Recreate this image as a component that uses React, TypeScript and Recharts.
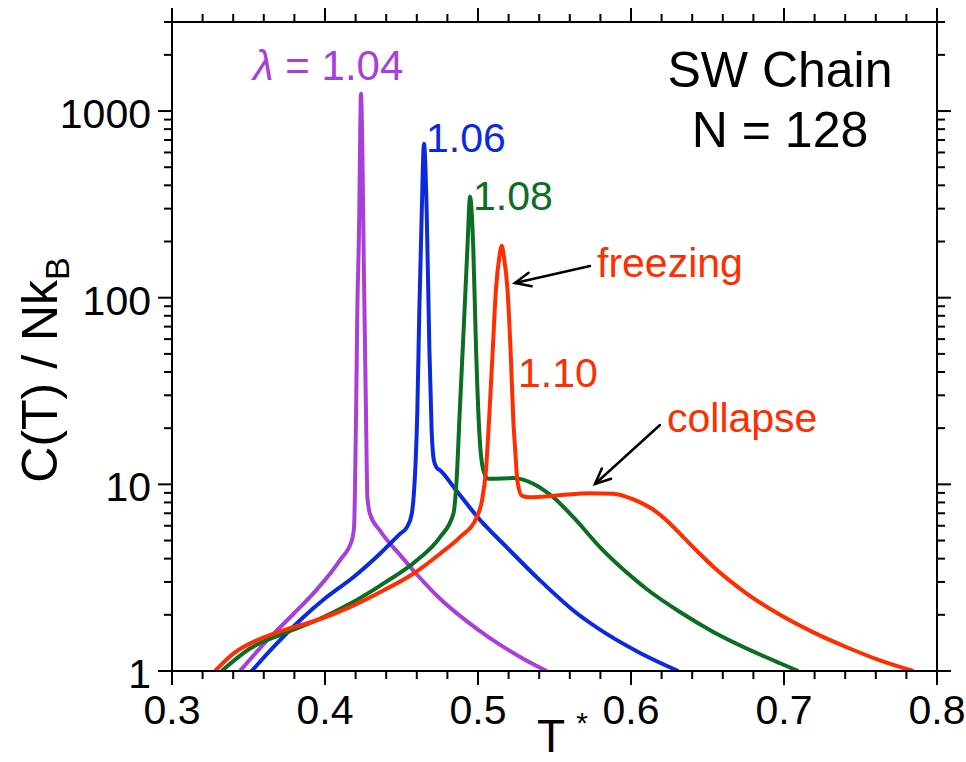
import React from "react";
import { LineChart, Line, XAxis, YAxis } from "recharts";

// C(T)/NkB vs T* for the square-well chain, N = 128, four well widths
const FONT = '"Liberation Sans", Arial, Helvetica, sans-serif';

const PURPLE = "#a93fdb";
const BLUE = "#0b2ae0";
const GREEN = "#0b6e22";
const RED = "#ff2d00";

// axis ticks
const tMajor = [0.3, 0.4, 0.5, 0.6, 0.7, 0.8];
const tTicks = [
  0.3, 0.32, 0.34, 0.36, 0.38, 0.4, 0.42, 0.44, 0.46, 0.48, 0.5, 0.52, 0.54, 0.56, 0.58,
  0.6, 0.62, 0.64, 0.66, 0.68, 0.7, 0.72, 0.74, 0.76, 0.78, 0.8,
];
const cMajor = [1, 10, 100, 1000];
const cTicks = [
  1, 2, 3, 4, 5, 6, 7, 8, 9, 10, 20, 30, 40, 50, 60, 70, 80, 90, 100, 200, 300, 400, 500,
  600, 700, 800, 900, 1000, 2000, 3000,
];

// lambda = 1.04
const temp104 = [
  0.3444, 0.3619, 0.3793, 0.3946, 0.4098, 0.4175, 0.419, 0.4203, 0.4211, 0.4224, 0.4229,
  0.4235, 0.4244, 0.4255, 0.4268, 0.4277, 0.4294, 0.4359, 0.449, 0.4599, 0.4752, 0.4926,
  0.5078, 0.5275, 0.5449,
];
const heat104 = [
  1, 1.45, 2.02, 2.73, 3.93, 5.0, 5.9, 23.9, 82, 281, 634, 1238, 634, 123, 23.9, 8.5, 6.95,
  5.66, 4.19, 3.3, 2.44, 1.85, 1.5, 1.19, 1,
];

// lambda = 1.06
const temp106 = [
  0.3521, 0.3684, 0.3837, 0.4011, 0.4185, 0.4359, 0.449, 0.4536, 0.4567, 0.4603, 0.4616,
  0.4632, 0.4647, 0.4665, 0.4682, 0.4697, 0.4712, 0.473, 0.4752, 0.4861, 0.5013, 0.5188,
  0.5405, 0.5623, 0.5841, 0.6059, 0.6309,
];
const heat106 = [
  1, 1.4, 1.87, 2.49, 3.18, 4.25, 5.43, 5.9, 6.95, 23.8, 81.7, 280, 668, 280, 54.2, 19.4,
  13.4, 12.3, 11.9, 9.2, 6.45, 4.6, 3.06, 2.11, 1.58, 1.25, 1,
];

// lambda = 1.08
const temp108 = [
  0.3325, 0.351, 0.3727, 0.3946, 0.4163, 0.4381, 0.4599, 0.4752, 0.4839, 0.486, 0.488,
  0.4911, 0.4931, 0.4948, 0.4969, 0.4987, 0.5008, 0.5035, 0.5067, 0.5231, 0.5294, 0.5361,
  0.5425, 0.5492, 0.5623, 0.5797, 0.5972, 0.6102, 0.632, 0.6538, 0.6756, 0.6974, 0.7093,
];
const heat108 = [
  1, 1.32, 1.585, 1.87, 2.29, 2.94, 3.91, 5.21, 6.95, 10.5, 23.8, 81.7, 186, 347, 186, 54.2,
  19.4, 11.9, 10.7, 10.8, 10.6, 10.07, 9.38, 8.53, 6.67, 4.61, 3.37, 2.75, 2.07, 1.62, 1.32,
  1.1, 1,
];

// lambda = 1.10
const temp110 = [
  0.3281, 0.3401, 0.3554, 0.3727, 0.3946, 0.4163, 0.4381, 0.4577, 0.4752, 0.4882, 0.4992,
  0.5026, 0.5052, 0.5072, 0.5095, 0.5118, 0.5139, 0.5155, 0.517, 0.5192, 0.5214, 0.5231,
  0.5242, 0.5257, 0.5286, 0.534, 0.5514, 0.5732, 0.5884, 0.6015, 0.6168, 0.6233, 0.632,
  0.6428, 0.6538, 0.6647, 0.6756, 0.6974, 0.7192, 0.741, 0.7627, 0.7845,
];
const heat110 = [
  1, 1.24, 1.46, 1.65, 1.87, 2.2, 2.7, 3.32, 4.25, 5.21, 6.67, 8.19, 11.9, 21.9, 49.9, 113,
  164, 190, 164, 113, 49.9, 21.9, 15.8, 10.5, 8.71, 8.53, 8.71, 8.96, 8.9, 8.3, 7.1, 6.4,
  5.45, 4.42, 3.62, 3.04, 2.6, 2.0, 1.61, 1.34, 1.14, 1,
];

const toPoints = (ts: number[], cs: number[]) => ts.map((t, i) => ({ t, c: cs[i] }));

const isMajor = (v: number, majors: number[]) =>
  majors.some((m) => Math.abs(m - v) < 1e-6 * Math.max(1, m));

const TICK_MAJOR = 14;
const TICK_MINOR = 8;
const LABEL_SIZE = 41;

function BottomTick(p: any) {
  const major = isMajor(p.payload.value, tMajor);
  return (
    <g>
      <line x1={p.x} y1={p.y} x2={p.x} y2={p.y + (major ? TICK_MAJOR : TICK_MINOR)} stroke="#000" strokeWidth={2} />
      {major && (
        <text x={p.x} y={p.y + 53} textAnchor="middle" fontSize={LABEL_SIZE} fontFamily={FONT} fill="#000">
          {p.payload.value.toFixed(1)}
        </text>
      )}
    </g>
  );
}

function TopTick(p: any) {
  const major = isMajor(p.payload.value, tMajor);
  return <line x1={p.x} y1={p.y} x2={p.x} y2={p.y - (major ? TICK_MAJOR : TICK_MINOR)} stroke="#000" strokeWidth={2} />;
}

function LeftTick(p: any) {
  const major = isMajor(p.payload.value, cMajor);
  return (
    <g>
      <line x1={p.x} y1={p.y} x2={p.x - (major ? TICK_MAJOR : TICK_MINOR)} y2={p.y} stroke="#000" strokeWidth={2} />
      {major && (
        <text x={p.x - 21} y={p.y + 17} textAnchor="end" fontSize={LABEL_SIZE} fontFamily={FONT} fill="#000">
          {String(p.payload.value)}
        </text>
      )}
    </g>
  );
}

function RightTick(p: any) {
  const major = isMajor(p.payload.value, cMajor);
  return <line x1={p.x} y1={p.y} x2={p.x + (major ? TICK_MAJOR : TICK_MINOR)} y2={p.y} stroke="#000" strokeWidth={2} />;
}

function Arrow({ x1, y1, x2, y2 }: { x1: number; y1: number; x2: number; y2: number }) {
  const a = Math.atan2(y2 - y1, x2 - x1);
  const len = 17;
  const spread = 0.42;
  const h1 = [x2 - len * Math.cos(a - spread), y2 - len * Math.sin(a - spread)];
  const h2 = [x2 - len * Math.cos(a + spread), y2 - len * Math.sin(a + spread)];
  return (
    <g stroke="#000" strokeWidth={2.5} fill="none" strokeLinecap="round">
      <line x1={x1} y1={y1} x2={x2} y2={y2} />
      <polyline points={`${h1[0]},${h1[1]} ${x2},${y2} ${h2[0]},${h2[1]}`} />
    </g>
  );
}

const axisLine = { stroke: "#000", strokeWidth: 2 };
const LW = 4;

export default function App() {
  const W = 966;
  const H = 762;
  return (
    <div style={{ position: "absolute", left: 0, top: 0, width: W, height: H, background: "#fff" }}>
      <LineChart width={W} height={H} margin={{ top: 21, right: 28, bottom: 0, left: 0 }}>
        <XAxis
          dataKey="t"
          type="number"
          domain={[0.3, 0.8]}
          ticks={tTicks}
          interval={0}
          allowDataOverflow
          height={91}
          tickSize={0}
          tickMargin={0}
          tickLine={false}
          axisLine={axisLine}
          tick={(p: any) => <BottomTick {...p} />}
        />
        <XAxis
          xAxisId="top"
          orientation="top"
          dataKey="t"
          type="number"
          domain={[0.3, 0.8]}
          ticks={tTicks}
          interval={0}
          allowDataOverflow
          height={1}
          tickSize={0}
          tickMargin={0}
          tickLine={false}
          axisLine={axisLine}
          tick={(p: any) => <TopTick {...p} />}
        />
        <YAxis
          type="number"
          scale="log"
          domain={[1, 3000]}
          ticks={cTicks}
          interval={0}
          allowDataOverflow
          width={172}
          tickSize={0}
          tickMargin={0}
          tickLine={false}
          axisLine={axisLine}
          tick={(p: any) => <LeftTick {...p} />}
        />
        <YAxis
          yAxisId="right"
          orientation="right"
          type="number"
          scale="log"
          domain={[1, 3000]}
          ticks={cTicks}
          interval={0}
          allowDataOverflow
          width={1}
          tickSize={0}
          tickMargin={0}
          tickLine={false}
          axisLine={axisLine}
          tick={(p: any) => <RightTick {...p} />}
        />
        <Line data={toPoints(temp104, heat104)} dataKey="c" type="monotone" stroke={PURPLE} strokeWidth={LW} dot={false} isAnimationActive={false} />
        <Line data={toPoints(temp106, heat106)} dataKey="c" type="monotone" stroke={BLUE} strokeWidth={LW} dot={false} isAnimationActive={false} />
        <Line data={toPoints(temp108, heat108)} dataKey="c" type="monotone" stroke={GREEN} strokeWidth={LW} dot={false} isAnimationActive={false} />
        <Line data={toPoints(temp110, heat110)} dataKey="c" type="monotone" stroke={RED} strokeWidth={LW} dot={false} isAnimationActive={false} />
      </LineChart>

      <svg width={W} height={H} style={{ position: "absolute", left: 0, top: 0, pointerEvents: "none" }} fontFamily={FONT}>
        <text transform="translate(57,370) rotate(-90)" textAnchor="middle" fontSize={50} fill="#000">
          C(T) / Nk<tspan fontSize={34} dy={12}>B</tspan>
        </text>
        <text x={551} y={752} textAnchor="middle" fontSize={46} fill="#000">T</text>
        <text x={582} y={733} textAnchor="middle" fontSize={30} fill="#000">*</text>

        <text x={780} y={87} textAnchor="middle" fontSize={50} fill="#000">SW Chain</text>
        <text x={780} y={147} textAnchor="middle" fontSize={50} fill="#000">N = 128</text>

        <text x={253} y={80} fontSize={42} fill={PURPLE}>
          <tspan fontStyle="italic">λ</tspan> = 1.04
        </text>
        <text x={426} y={152} fontSize={41} fill={BLUE}>1.06</text>
        <text x={473} y={210} fontSize={41} fill={GREEN}>1.08</text>
        <text x={518} y={387} fontSize={41} fill={RED}>1.10</text>
        <text x={597} y={277} fontSize={41} fill={RED}>freezing</text>
        <text x={667} y={432} fontSize={41} fill={RED}>collapse</text>

        <Arrow x1={590} y1={266} x2={515} y2={283} />
        <Arrow x1={660} y1={425} x2={595} y2={484} />
      </svg>
    </div>
  );
}
